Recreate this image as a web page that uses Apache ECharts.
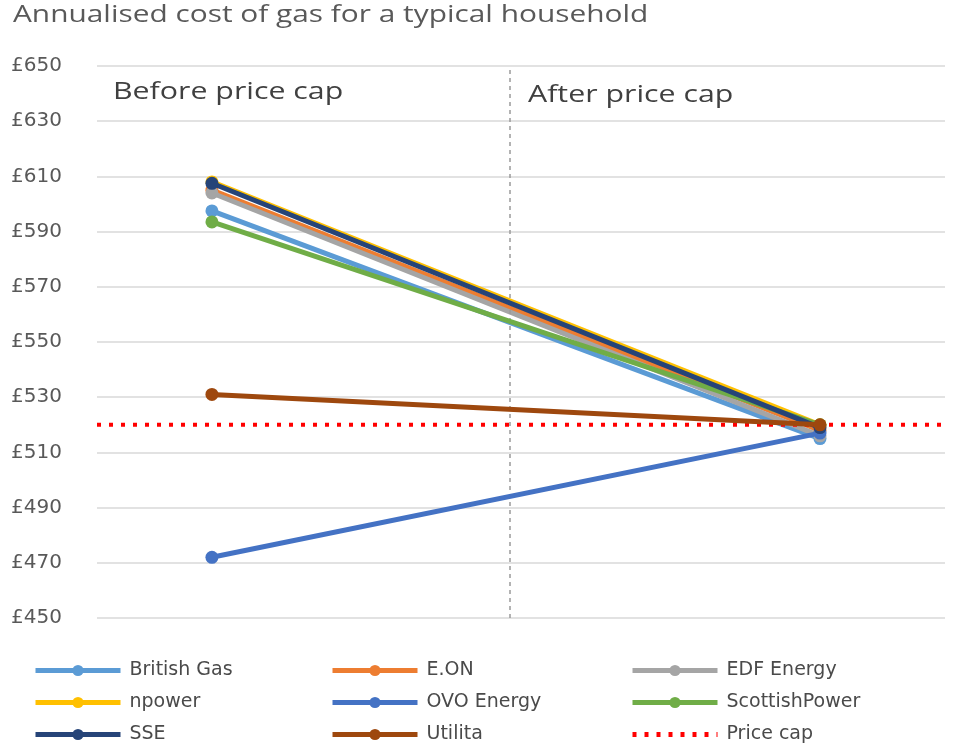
<!DOCTYPE html>
<html><head><meta charset="utf-8">
<script src="https://cdn.jsdelivr.net/npm/echarts@6/dist/echarts.min.js"></script>
<style>html,body{margin:0;padding:0;background:#fff}#c{width:953px;height:749px}</style>
</head><body><div id="c"></div>
<script>
const chartTitle = "Annualised cost of gas for a typical household";
const periods = ["Before price cap", "After price cap"];
const suppliers = ["British Gas","E.ON","EDF Energy","npower","OVO Energy","ScottishPower","SSE","Utilita"];
const beforeCap = [597.5, 605, 604, 608, 472, 593.5, 607.5, 531];
const afterCap  = [515, 518, 516, 520, 517, 520, 519, 520];
const priceCap = 520;
const yTicks = [450, 470, 490, 510, 530, 550, 570, 590, 610, 630, 650];
const colors = ["#5B9BD5","#ED7D31","#A5A5A5","#FFC000","#4472C4","#70AD47","#264478","#9E480E"];

const XMIN = -0.189, XMAX = 1.2056;
const lblFont = "'DejaVu Sans', sans-serif";

const series = suppliers.map((n, i) => ({
  name: n, type: 'line',
  data: [[0, beforeCap[i]], [1, afterCap[i]]],
  symbol: 'circle', symbolSize: 13,
  lineStyle: { width: 5, color: colors[i] },
  itemStyle: { color: colors[i] },
  z: 2 + i
}));
series.push({
  name: 'Price cap', type: 'line',
  data: [[XMIN, priceCap], [XMAX, priceCap]],
  symbol: 'none',
  lineStyle: { width: 4, color: '#FF0000', type: [4, 8] },
  itemStyle: { color: '#FF0000' },
  z: 20,
  markLine: {
    silent: true, symbol: 'none', label: { show: false },
    lineStyle: { color: '#9a9a9a', type: [4, 4], width: 1.5 },
    data: [{ xAxis: 0.4885 }]
  }
});
series[7].z = 21;

function legendCol(left, names) {
  return {
    orient: 'vertical', left: left, top: 656, height: 110,
    itemWidth: 85, itemHeight: 14, itemGap: 13,
    lineStyle: { width: 5 },
    textStyle: { fontFamily: lblFont, fontSize: 19, color: '#4a4a4a', padding: [0, 0, 0, 4] },
    data: names.map(n => n === 'Price cap' ? { name: n, itemStyle: { opacity: 0 } } : n)
  };
}

const chart = echarts.init(document.getElementById('c'));
chart.setOption({
  animation: false,
  grid: { left: 97, right: 8, top: 66, bottom: 131 },
  xAxis: { type: 'value', min: XMIN, max: XMAX, show: false },
  yAxis: {
    type: 'value', min: yTicks[0], max: yTicks[yTicks.length - 1], interval: 20,
    axisLine: { show: false }, axisTick: { show: false },
    axisLabel: { formatter: v => '£' + v, fontFamily: lblFont, fontSize: 20, color: '#595959', margin: 35 },
    splitLine: { lineStyle: { color: '#d9d9d9', width: 1.5 } }
  },
  legend: [
    legendCol(28, [suppliers[0], suppliers[3], suppliers[6]]),
    legendCol(325, [suppliers[1], suppliers[4], suppliers[7]]),
    legendCol(625, [suppliers[2], suppliers[5], 'Price cap'])
  ],
  graphic: [
    { type: 'text', x: 13, y: 3, scaleX: 1.27, style: { text: chartTitle, font: "23.5px 'Open Sans', sans-serif", fill: '#595959' } },
    { type: 'text', x: 113, y: 80, scaleX: 1.29, style: { text: periods[0], font: "23.5px 'Open Sans', sans-serif", fill: '#404040' } },
    { type: 'text', x: 528, y: 83, scaleX: 1.29, style: { text: periods[1], font: "23.5px 'Open Sans', sans-serif", fill: '#404040' } }
  ],
  series: series
});
</script></body></html>
